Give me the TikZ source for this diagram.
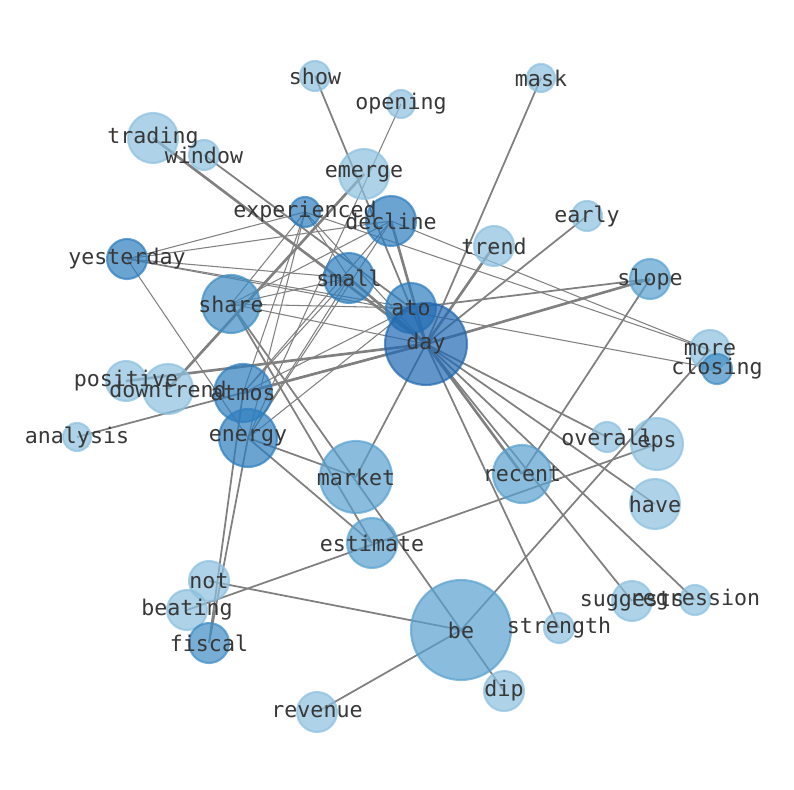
\documentclass[tikz,border=0pt]{standalone}
\usepackage{fontspec}
\setmonofont{DejaVu Sans Mono}
\usetikzlibrary{backgrounds}
\definecolor{bA}{RGB}{140,192,222}
\definecolor{bB}{RGB}{88,160,207}
\definecolor{bC}{RGB}{62,140,196}
\definecolor{bD}{RGB}{45,125,190}
\definecolor{bE}{RGB}{32,104,178}
\definecolor{lbl}{RGB}{55,55,55}

\begin{document}
\begin{tikzpicture}[x=0.02cm, y=-0.02cm,
    word/.style={circle, inner sep=0pt, fill opacity=0.7, draw opacity=0.7, line width=1.2pt},
    lvA/.style={word, fill=bA, draw=bA},
    lvB/.style={word, fill=bB, draw=bB},
    lvC/.style={word, fill=bC, draw=bC},
    lvD/.style={word, fill=bD, draw=bD},
    lvE/.style={word, fill=bE, draw=bE},
    rad/.style={minimum size=#1*0.04cm},
    tag/.style={font=\ttfamily\fontsize{12.3}{14}\selectfont, text=lbl, inner sep=0pt},
    ethin/.style={draw=black!50, line width=0.6pt},
    emed/.style={draw=black!50, line width=1pt},
    ethick/.style={draw=black!50, line width=1.5pt}]
  \useasboundingbox (0,0) rectangle (794,790);

  % words
  \node[lvA, rad=15] (show) at (315,76) {};
  \node[lvA, rad=14] (opening) at (401,104) {};
  \node[lvA, rad=14] (mask) at (541,78) {};
  \node[lvA, rad=25] (trading) at (153,138) {};
  \node[lvA, rad=15] (window) at (204,155) {};
  \node[lvA, rad=25] (emerge) at (364,174) {};
  \node[lvD, rad=15] (experienced) at (305,212) {};
  \node[lvD, rad=25] (decline) at (391,221) {};
  \node[lvA, rad=15] (early) at (587,216) {};
  \node[lvA, rad=20] (trend) at (494,246) {};
  \node[lvD, rad=20] (yesterday) at (127,259) {};
  \node[lvD, rad=25] (small) at (349,278) {};
  \node[lvB, rad=20] (slope) at (650,279) {};
  \node[lvC, rad=29] (share) at (231,304) {};
  \node[lvD, rad=25] (ato) at (411,308) {};
  \node[lvE, rad=41] (day) at (426,344) {};
  \node[lvA, rad=20] (more) at (710,350) {};
  \node[lvC, rad=15] (closing) at (717,369) {};
  \node[lvA, rad=20] (positive) at (126,381) {};
  \node[lvA, rad=25] (downtrend) at (168,389) {};
  \node[lvD, rad=29] (atmos) at (243,393) {};
  \node[lvA, rad=14] (analysis) at (77,437) {};
  \node[lvD, rad=29] (energy) at (248,438) {};
  \node[lvA, rad=15] (overall) at (607,437) {};
  \node[lvA, rad=26] (eps) at (657,444) {};
  \node[lvB, rad=36] (market) at (356,477) {};
  \node[lvB, rad=29] (recent) at (522,474) {};
  \node[lvA, rad=25] (have) at (655,504) {};
  \node[lvB, rad=25] (estimate) at (372,543) {};
  \node[lvA, rad=20] (not) at (209,581) {};
  \node[lvA, rad=20] (beating) at (187,610) {};
  \node[lvC, rad=20] (fiscal) at (209,643) {};
  \node[lvB, rad=50] (be) at (461,630) {};
  \node[lvA, rad=15] (strength) at (559,628) {};
  \node[lvA, rad=20] (suggests) at (632,601) {};
  \node[lvA, rad=15] (regression) at (695,600) {};
  \node[lvA, rad=20] (dip) at (504,691) {};
  \node[lvA, rad=20] (revenue) at (317,712) {};

  % labels on top
  \foreach \w in {show,opening,mask,trading,window,emerge,experienced,decline,early,
      trend,yesterday,small,slope,share,ato,day,more,closing,positive,downtrend,atmos,
      analysis,energy,overall,eps,market,recent,have,estimate,not,beating,fiscal,be,
      strength,suggests,regression,dip,revenue}
    \node[tag] (t-\w) at (\w.center) {\w};

  % links
  \begin{scope}[on background layer]
    \draw[ethin] (opening.center) -- (energy.center);
    \draw[ethin] (yesterday.center) -- (experienced.center);
    \draw[ethin] (yesterday.center) -- (decline.center);
    \draw[ethin] (yesterday.center) -- (small.center);
    \draw[ethin] (yesterday.center) -- (ato.center);
    \draw[ethin] (yesterday.center) -- (closing.center);
    \draw[ethin] (yesterday.center) -- (energy.center);
    \draw[ethin] (experienced.center) -- (more.center);
    \draw[ethin] (experienced.center) -- (small.center);
    \draw[ethin] (experienced.center) -- (atmos.center);
    \draw[ethin] (experienced.center) -- (energy.center);
    \draw[ethin] (experienced.center) -- (share.center);
    \draw[ethin] (experienced.center) -- (day.center);
    \draw[ethin] (decline.center) -- (more.center);
    \draw[ethin] (decline.center) -- (share.center);
    \draw[ethin] (decline.center) -- (atmos.center);
    \draw[ethin] (decline.center) -- (energy.center);
    \draw[ethin] (small.center) -- (share.center);
    \draw[ethin] (small.center) -- (atmos.center);
    \draw[ethin] (small.center) -- (energy.center);
    \draw[ethin] (share.center) -- (ato.center);
    \draw[ethin] (share.center) -- (day.center);
    \draw[ethin] (energy.center) -- (ato.center);
    \draw[ethin] (atmos.center) -- (ato.center);

    \draw[emed] (show.center) -- (day.center);
    \draw[emed] (mask.center) -- (day.center);
    \draw[emed] (early.center) -- (day.center);
    \draw[emed] (window.center) -- (ato.center);
    \draw[emed] (ato.center) -- (slope.center);
    \draw[emed] (slope.center) -- (recent.center);
    \draw[emed] (more.center) -- (be.center);
    \draw[emed] (eps.center) -- (beating.center);
    \draw[emed] (not.center) -- (be.center);
    \draw[emed] (revenue.center) -- (be.center);
    \draw[emed] (share.center) -- (dip.center);
    \draw[emed] (share.center) -- (estimate.center);
    \draw[emed] (day.center) -- (strength.center);
    \draw[emed] (day.center) -- (suggests.center);
    \draw[emed] (day.center) -- (regression.center);
    \draw[emed] (day.center) -- (have.center);
    \draw[emed] (day.center) -- (overall.center);
    \draw[emed] (analysis.center) -- (day.center);
    \draw[emed] (market.center) -- (day.center);
    \draw[emed] (energy.center) -- (market.center);
    \draw[emed] (energy.center) -- (estimate.center);
    \draw[emed] (fiscal.center) -- (atmos.center);
    \draw[emed] (fiscal.center) -- (energy.center);

    \draw[ethick] (trading.center) -- (day.center);
    \draw[ethick] (downtrend.center) -- (emerge.center);
    \draw[ethick] (trend.center) -- (day.center);
    \draw[ethick] (slope.center) -- (day.center);
    \draw[ethick] (decline.center) -- (day.center);
    \draw[ethick] (small.center) -- (day.center);
    \draw[ethick] (day.center) -- (recent.center);
    \draw[ethick] (positive.center) -- (day.center);
    \draw[ethick] (atmos.center) -- (day.center);
  \end{scope}
\end{tikzpicture}
\end{document}
